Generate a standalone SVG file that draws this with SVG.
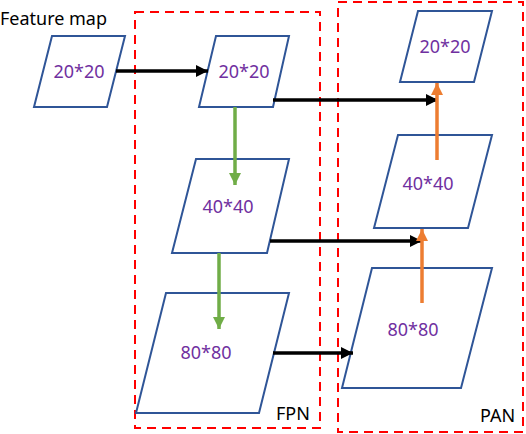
<svg xmlns="http://www.w3.org/2000/svg" width="526" height="434" viewBox="0 0 526 434">
<style>
.node{fill:#fff;stroke:#2F5597;stroke-width:2}
.lbl{font-family:"Noto Sans","Liberation Sans",sans-serif;font-size:18px;fill:#7030A0;text-anchor:middle}
.txt{font-family:"Noto Sans","Liberation Sans",sans-serif;font-size:18px;fill:#000}
.box{fill:none;stroke:#FF0000;stroke-width:2;stroke-dasharray:9,6}
.blk{stroke:#000;stroke-width:3.5;fill:none;marker-end:url(#ab)}
.grn{stroke:#70AD47;stroke-width:3.5;fill:none;marker-end:url(#ag)}
.org{stroke:#ED7D31;stroke-width:3.5;fill:none;marker-end:url(#ao)}
</style>
<defs>
<marker id="ab" markerUnits="userSpaceOnUse" markerWidth="14" markerHeight="14" refX="12" refY="6" orient="auto"><path d="M0,0 L12,6 L0,12 z" fill="#000"/></marker>
<marker id="ag" markerUnits="userSpaceOnUse" markerWidth="14" markerHeight="14" refX="12" refY="6" orient="auto"><path d="M0,0 L12,6 L0,12 z" fill="#70AD47"/></marker>
<marker id="ao" markerUnits="userSpaceOnUse" markerWidth="14" markerHeight="14" refX="12" refY="6" orient="auto"><path d="M0,0 L12,6 L0,12 z" fill="#ED7D31"/></marker>
</defs>
<g id="fpn-box"><rect class="box" x="135" y="12" width="185" height="416"/><text class="txt" x="276" y="420">FPN</text></g>
<g id="pan-box"><rect class="box" x="338" y="2" width="185" height="430"/><text class="txt" x="480" y="422">PAN</text></g>
<g id="feature-label"><text class="txt" x="0" y="25" textLength="107" lengthAdjust="spacingAndGlyphs">Feature map</text></g>
<g id="in20"><polygon class="node" points="52,36 125,36 107,107 34,107"/><text class="lbl" x="79" y="78">20*20</text></g>
<g id="fpn20"><polygon class="node" points="216,36 289,36 273,107 199,107"/><text class="lbl" x="244" y="78">20*20</text></g>
<g id="fpn40"><polygon class="node" points="196,159 289,159 267,253 172,253"/><text class="lbl" x="228" y="213">40*40</text></g>
<g id="fpn80"><polygon class="node" points="166,293 289,293 259,413 136,413"/><text class="lbl" x="206" y="359">80*80</text></g>
<g id="pan20"><polygon class="node" points="418,11 492,11 474,82 400,82"/><text class="lbl" x="445" y="53">20*20</text></g>
<g id="pan40"><polygon class="node" points="398,135 492,135 468,228 374,228"/><text class="lbl" x="428" y="190">40*40</text></g>
<g id="pan80"><polygon class="node" points="372,268 492,268 461,388 342,388"/><text class="lbl" x="413" y="336">80*80</text></g>
<g id="connectors">
<line class="blk" x1="116" y1="71" x2="208" y2="71"/>
<line class="blk" x1="273" y1="100" x2="438" y2="100"/>
<line class="blk" x1="270" y1="241" x2="422" y2="241"/>
<line class="blk" x1="273" y1="353" x2="353" y2="353"/>
<line class="grn" x1="235" y1="107" x2="235" y2="185"/>
<line class="grn" x1="219" y1="253" x2="219" y2="329"/>
<line class="org" x1="437" y1="160" x2="437" y2="83"/>
<line class="org" x1="422" y1="303" x2="422" y2="229"/>
</g>
</svg>
